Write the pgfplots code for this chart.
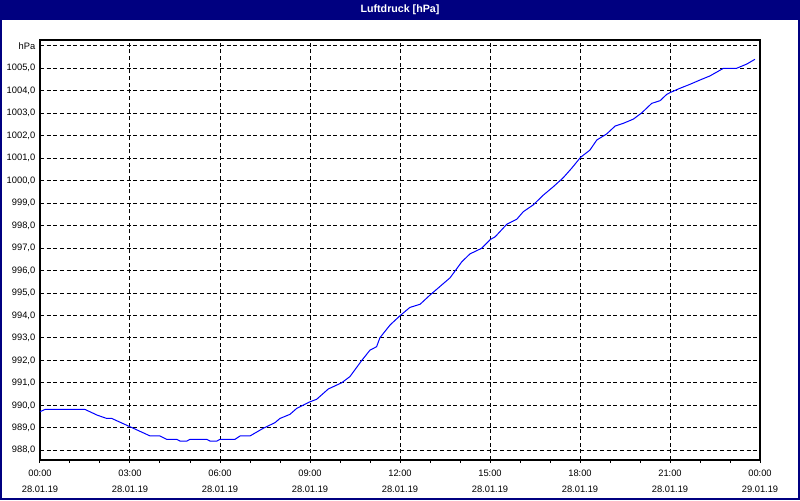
\documentclass[border=0pt]{standalone}
\usepackage{pgfplots}
\pgfplotsset{compat=1.18}
\usepackage{fontspec}
\setmainfont{Liberation Sans}
\definecolor{winnavy}{RGB}{0,0,128}
\definecolor{lineblue}{RGB}{0,0,255}
\begin{document}
\begin{tikzpicture}
\path[use as bounding box] (0,0) rectangle (600pt,375pt);
\fill[white] (0,0) rectangle (600pt,375pt);
\begin{axis}[
    at={(30pt,30pt)}, anchor=south west,
    scale only axis, width=540pt, height=315pt,
    xmin=0, xmax=24, ymin=987.57, ymax=1006.26,
    axis line style={line width=1.1pt},
    xtick={0,3,...,24},
    minor xtick={1,2,4,5,7,8,10,11,13,14,16,17,19,20,22,23},
    xticklabels={{00:00\\28.01.19},{03:00\\28.01.19},{06:00\\28.01.19},{09:00\\28.01.19},{12:00\\28.01.19},{15:00\\28.01.19},{18:00\\28.01.19},{21:00\\28.01.19},{00:00\\29.01.19}},
    ytick={988,...,1006},
    yticklabels={{988,0},{989,0},{990,0},{991,0},{992,0},{993,0},{994,0},{995,0},{996,0},{997,0},{998,0},{999,0},{1000,0},{1001,0},{1002,0},{1003,0},{1004,0},{1005,0},hPa},
    xtick align=outside,
    major tick length=2.25pt, minor tick length=2.25pt,
    xtick pos=bottom, ytick pos=left,
    ytick style={draw=none},
    tick style={black, line width=0.75pt},
    xmajorgrids, ymajorgrids,
    major grid style={black, line width=0.75pt, dash pattern=on 3pt off 2pt},
    /pgf/number format/assume math mode=true,
    tick label style={font=\fontsize{7}{12}\selectfont},
    xticklabel style={align=center, yshift=-2pt},
]
\addplot[lineblue, line width=0.75pt] coordinates {
(0,989.72) (0.17,989.82) (1.5,989.82) (1.9,989.57) (2.22,989.42) (2.39,989.42)
(3.0,989.05) (3.67,988.64) (4.0,988.64) (4.22,988.49) (4.56,988.49) (4.67,988.41)
(4.89,988.41) (5.0,988.49) (5.56,988.49) (5.67,988.41) (5.89,988.41) (6.0,988.49)
(6.5,988.49) (6.67,988.64) (7.0,988.64) (7.44,988.98) (7.83,989.23) (8.0,989.42)
(8.33,989.6) (8.56,989.87) (9.0,990.16) (9.22,990.27) (9.61,990.73) (10.06,991.01)
(10.33,991.28) (10.72,991.99) (11.0,992.46) (11.22,992.61) (11.33,993.01) (11.67,993.58)
(12.0,993.99) (12.33,994.36) (12.67,994.5) (13.0,994.91) (13.67,995.68) (14.06,996.39)
(14.33,996.74) (14.72,996.99) (15.02,997.39) (15.17,997.5) (15.56,998.06) (15.89,998.28)
(16.11,998.62) (16.44,998.92) (16.78,999.36) (17.11,999.73) (17.44,1000.13) (17.72,1000.55)
(18.02,1001.04) (18.33,1001.36) (18.56,1001.81) (18.89,1002.08) (19.17,1002.43) (19.44,1002.55)
(19.78,1002.74) (20.06,1003.02) (20.39,1003.44) (20.67,1003.56) (20.89,1003.84) (21.02,1003.93)
(21.33,1004.11) (21.67,1004.29) (22.0,1004.48) (22.33,1004.66) (22.78,1005.0) (23.22,1005.0)
(23.56,1005.19) (23.83,1005.4)
};
\end{axis}
\fill[winnavy] (0,360pt) rectangle (600pt,375pt);
\node[white, font=\bfseries\fontsize{8}{10}\selectfont] at (300pt,367.5pt) {Luftdruck [hPa]};
\draw[winnavy, line width=1.5pt] (0.75pt,0.75pt) rectangle (599.25pt,374.25pt);
\end{tikzpicture}
\end{document}
